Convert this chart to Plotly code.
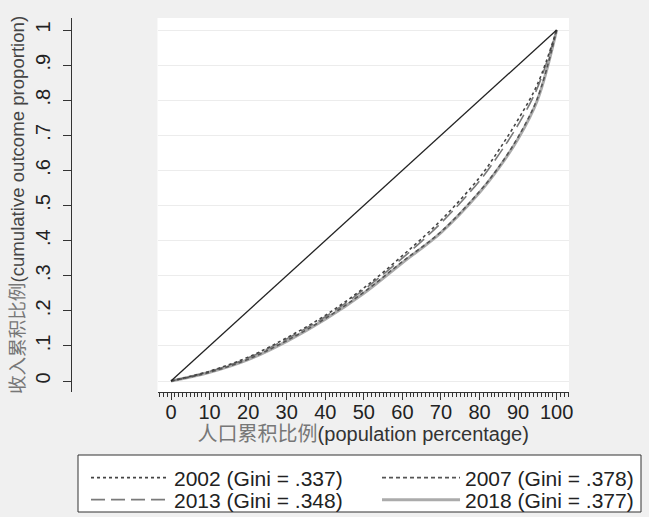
import plotly.graph_objects as go

# ---- data ----
pop_pct = [0, 10, 20, 30, 40, 50, 60, 70, 80, 85, 90, 95, 100]
y2002 = [0, 0.028, 0.068, 0.123, 0.187, 0.265, 0.357, 0.458, 0.580, 0.658, 0.745, 0.845, 1.0]
y2007 = [0, 0.025, 0.062, 0.115, 0.178, 0.253, 0.340, 0.425, 0.540, 0.610, 0.695, 0.805, 1.0]
y2013 = [0, 0.027, 0.066, 0.120, 0.183, 0.260, 0.350, 0.450, 0.570, 0.645, 0.730, 0.835, 1.0]
y2018 = [0, 0.025, 0.061, 0.113, 0.176, 0.250, 0.337, 0.423, 0.537, 0.607, 0.690, 0.800, 1.0]
equality_x = [0, 100]
equality_y = [0, 1]

series_names = ["2002 (Gini = .337)", "2007 (Gini = .378)",
                "2013 (Gini = .348)", "2018 (Gini = .377)"]

x_ticks = [0, 10, 20, 30, 40, 50, 60, 70, 80, 90, 100]
y_tickvals = [0, 0.1, 0.2, 0.3, 0.4, 0.5, 0.6, 0.7, 0.8, 0.9, 1.0]
y_ticktext = ["0", ".1", ".2", ".3", ".4", ".5", ".6", ".7", ".8", ".9", "1"]

FONT = "Liberation Sans, Arial, Noto Sans CJK SC, sans-serif"
W, H = 649, 517

fig = go.Figure()

# 2018 drawn first (underneath)
fig.add_trace(go.Scatter(x=pop_pct, y=y2018, mode="lines", name=series_names[3],
                         line=dict(color="#ababab", width=3, shape="spline"),
                         legend="legend2", legendrank=2))
fig.add_trace(go.Scatter(x=pop_pct, y=y2013, mode="lines", name=series_names[2],
                         line=dict(color="#7a7a7a", width=1.6, dash="14px,6px", shape="spline"),
                         legend="legend2", legendrank=1))
fig.add_trace(go.Scatter(x=pop_pct, y=y2007, mode="lines", name=series_names[1],
                         line=dict(color="#555555", width=1.6, dash="4px,3px", shape="spline"),
                         legend="legend", legendrank=2))
fig.add_trace(go.Scatter(x=pop_pct, y=y2002, mode="lines", name=series_names[0],
                         line=dict(color="#444444", width=1.6, dash="dot", shape="spline"),
                         legend="legend", legendrank=1))
fig.add_trace(go.Scatter(x=equality_x, y=equality_y, mode="lines", showlegend=False,
                         line=dict(color="#222222", width=1.3)))

x0_px, x1_px = 157.5, 569
y_top_px, y_bot_px = 18, 392

legend_common = dict(
    orientation="h",
    x=86 / W, xanchor="left",
    yanchor="middle",
    bgcolor="rgba(0,0,0,0)",
    borderwidth=0,
    font=dict(family=FONT, size=21, color="#222222"),
    itemwidth=78,
    entrywidth=198, entrywidthmode="pixels",
    traceorder="normal",
)

fig.update_layout(
    width=W, height=H,
    margin=dict(l=0, r=0, t=0, b=0, autoexpand=False),
    paper_bgcolor="#f0f0f0",
    plot_bgcolor="#ffffff",
    font=dict(family=FONT, size=20, color="#222222"),
    showlegend=True,
    legend=dict(legend_common, y=(H - 478) / H),
    legend2=dict(legend_common, y=(H - 500) / H),
    shapes=[dict(type="rect", xref="paper", yref="paper",
                 x0=78 / W, x1=641 / W, y0=(H - 512) / H, y1=(H - 455) / H,
                 fillcolor="#ffffff", line=dict(color="#333333", width=1),
                 layer="below")],
    xaxis=dict(
        domain=[x0_px / W, x1_px / W],
        range=[-3.5, 103.2],
        tickmode="array", tickvals=x_ticks,
        ticks="outside", ticklen=7, tickcolor="#333333", tickwidth=1,
        minor=dict(dtick=1, tick0=0, ticks="outside", ticklen=4,
                   tickcolor="#333333", tickwidth=1, showgrid=False),
        showline=True, linecolor="#333333", linewidth=1,
        showgrid=False, zeroline=False,
        tickfont=dict(size=20, color="#222222"),
        ticklabelstandoff=-5,
        automargin=False,
        title=dict(text="<span style='color:#777777'>人口累积比例</span>(population percentage)",
                   font=dict(size=20, color="#333333"), standoff=2),
    ),
    yaxis=dict(
        domain=[(H - y_bot_px) / H, (H - y_top_px) / H],
        range=[-0.0313, 1.0342],
        anchor="free", position=71 / W,
        tickmode="array", tickvals=y_tickvals, ticktext=y_ticktext,
        tickangle=-90,
        ticks="outside", ticklen=8, tickcolor="#333333", tickwidth=1,
        showline=True, linecolor="#333333", linewidth=1,
        showgrid=True, gridcolor="#ececec", gridwidth=1,
        zeroline=False,
        tickfont=dict(size=20, color="#222222"),
        ticklabelstandoff=5,
        automargin=False,
        title=dict(text="<span style='color:#777777'>收入累积比例</span>(cumulative outcome proportion)",
                   font=dict(size=18.6, color="#444444"), standoff=1),
    ),
)

fig.write_html(
    "out.html",
    config={"displayModeBar": False},
    post_script="document.body.style.margin='0';document.body.style.background='#f0f0f0';",
)
